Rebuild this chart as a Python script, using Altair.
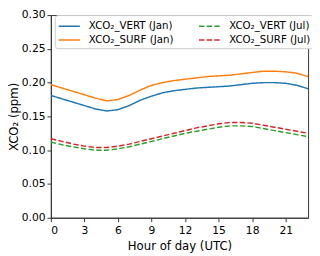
import altair as alt
import pandas as pd

hours = list(range(24))
jan_vert = [0.181, 0.176, 0.171, 0.166, 0.161, 0.158, 0.160, 0.166, 0.174, 0.180, 0.185, 0.188,
            0.190, 0.192, 0.193, 0.194, 0.195, 0.197, 0.199, 0.200, 0.200, 0.199, 0.196, 0.191]
jan_surf = [0.197, 0.192, 0.187, 0.182, 0.177, 0.173, 0.175, 0.181, 0.189, 0.196, 0.200, 0.203,
            0.205, 0.207, 0.209, 0.210, 0.211, 0.213, 0.215, 0.217, 0.217, 0.216, 0.214, 0.209]
jul_vert = [0.112, 0.108, 0.105, 0.102, 0.100, 0.100, 0.102, 0.105, 0.109, 0.113, 0.117, 0.121,
            0.125, 0.128, 0.131, 0.134, 0.136, 0.136, 0.135, 0.132, 0.129, 0.126, 0.123, 0.120]
jul_surf = [0.117, 0.113, 0.109, 0.106, 0.104, 0.104, 0.106, 0.109, 0.113, 0.117, 0.121, 0.125,
            0.129, 0.133, 0.136, 0.139, 0.141, 0.141, 0.140, 0.137, 0.134, 0.131, 0.128, 0.125]

series_names = ["XCO₂_VERT (Jan)", "XCO₂_SURF (Jan)", "XCO₂_VERT (Jul)", "XCO₂_SURF (Jul)"]
series_values = [jan_vert, jan_surf, jul_vert, jul_surf]
series_colors = ["#1f77b4", "#ff7f0e", "#2ca02c", "#d62728"]
series_dash = [[1, 0], [1, 0], [5.5, 2.4], [5.5, 2.4]]

rows = []
for name, vals in zip(series_names, series_values):
    for h, v in zip(hours, vals):
        rows.append({"hour": h, "value": v, "series": name})
df = pd.DataFrame(rows)

font = "DejaVu Sans"

chart = alt.Chart(df).mark_line(strokeWidth=1.5, clip=True).encode(
    x=alt.X("hour:Q", scale=alt.Scale(domain=[0, 23], nice=False, zero=False),
            axis=alt.Axis(title="Hour of day (UTC)", values=[0, 3, 6, 9, 12, 15, 18, 21],
                          grid=False, tickSize=4, labelPadding=3, titlePadding=6)),
    y=alt.Y("value:Q", scale=alt.Scale(domain=[0, 0.30], nice=False),
            axis=alt.Axis(title="XCO₂ (ppm)", values=[0, 0.05, 0.10, 0.15, 0.20, 0.25, 0.30],
                          format=".2f", grid=False, tickSize=4, labelPadding=2, titlePadding=1)),
    color=alt.Color("series:N", sort=series_names,
                    scale=alt.Scale(domain=series_names, range=series_colors),
                    legend=alt.Legend(title=None, orient="none", legendX=4, legendY=0,
                                      columns=2, symbolType="M-1.0,0H1.9", symbolSize=225,
                                      symbolStrokeWidth=1.5, labelFontSize=10.5, labelFont=font,
                                      labelOffset=15, columnPadding=23, rowPadding=-2,
                                      padding=3, strokeColor="#cccccc", fillColor="white",
                                      cornerRadius=3)),
    strokeDash=alt.StrokeDash("series:N", sort=series_names,
                              scale=alt.Scale(domain=series_names, range=series_dash),
                              legend=None),
).properties(
    width=264, height=208,
    autosize=alt.AutoSizeParams(type="none"),
    padding={"left": 44, "top": 4, "right": 4, "bottom": 36},
).configure_view(
    stroke="#333333", strokeWidth=1
).configure_axis(
    domainColor="#333333", tickColor="#333333", labelColor="black", titleColor="black",
    labelFont=font, titleFont=font, labelFontSize=11, titleFontSize=12,
    titleFontWeight="normal"
)

chart.save("out.html", embed_options={"renderer": "svg", "actions": False})
